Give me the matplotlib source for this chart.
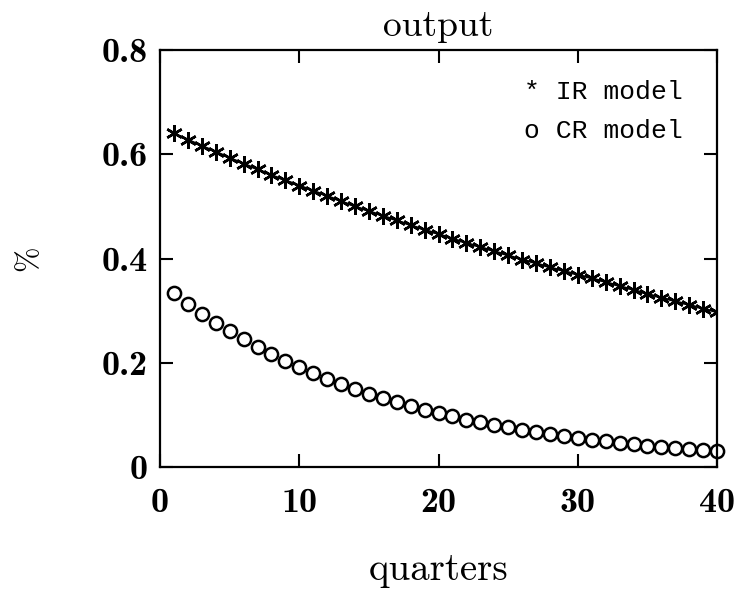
import matplotlib
matplotlib.use("Agg")
import matplotlib.pyplot as plt
import numpy as np

# impulse responses of output, quarters 1..40
quarters = np.arange(1, 41)
ir_model = [0.640, 0.628, 0.616, 0.605, 0.593, 0.582, 0.571, 0.560, 0.550, 0.540,
            0.530, 0.520, 0.510, 0.500, 0.491, 0.482, 0.473, 0.464, 0.455, 0.447,
            0.438, 0.430, 0.422, 0.414, 0.406, 0.398, 0.391, 0.383, 0.376, 0.369,
            0.362, 0.355, 0.347, 0.340, 0.332, 0.325, 0.318, 0.311, 0.304, 0.297]
cr_model = [0.333, 0.313, 0.294, 0.277, 0.260, 0.245, 0.230, 0.216, 0.203, 0.191,
            0.180, 0.169, 0.159, 0.149, 0.140, 0.132, 0.124, 0.117, 0.110, 0.103,
            0.097, 0.091, 0.086, 0.081, 0.076, 0.071, 0.067, 0.063, 0.059, 0.056,
            0.052, 0.049, 0.046, 0.044, 0.041, 0.039, 0.036, 0.034, 0.032, 0.030]
legend_labels = ["* IR model", "o CR model"]
xticks = [0, 10, 20, 30, 40]
yticks = [0, 0.2, 0.4, 0.6, 0.8]
ytick_labels = ["0", "0.2", "0.4", "0.6", "0.8"]

fig = plt.figure(figsize=(7.45, 5.96), dpi=100)
ax = fig.add_axes([0.2148, 0.2164, 0.7477, 0.6997])

ax.plot(quarters, ir_model, "-", color="black", linewidth=1.5,
        marker=(6, 2, 0), markersize=12, markeredgewidth=1.8)
ax.plot(quarters, cr_model, "o", color="black", markerfacecolor="white",
        markersize=9.5, markeredgewidth=1.8, clip_on=False)

ax.set_xlim(0, 40)
ax.set_ylim(0, 0.8)
ax.set_xticks(xticks)
ax.set_yticks(yticks)
ax.set_yticklabels(ytick_labels)
ax.tick_params(direction="in", length=9.5, width=1.5, top=True, right=True,
               labelsize=26)
ax.tick_params(axis="x", pad=15)
ax.tick_params(axis="y", pad=9)
for lab in ax.get_xticklabels() + ax.get_yticklabels():
    lab.set_fontfamily("cmb10")
for sp in ax.spines.values():
    sp.set_linewidth(1.6)

ax.set_title("output", fontfamily="cmr10", fontsize=27, pad=10)
ax.set_xlabel("quarters", fontfamily="cmr10", fontsize=28)
ax.xaxis.set_label_coords(0.5, -0.205)
ax.set_ylabel("%", fontfamily="cmr10", fontsize=22)
ax.yaxis.set_label_coords(-0.212, 0.5)

# text legend, as in the original
for i, lab in enumerate(legend_labels):
    ax.text(0.653, 0.9 - 0.094 * i, lab, transform=ax.transAxes,
            ha="left", va="center", fontfamily="Liberation Mono", fontsize=19)

fig.savefig("out.png", dpi=100)
